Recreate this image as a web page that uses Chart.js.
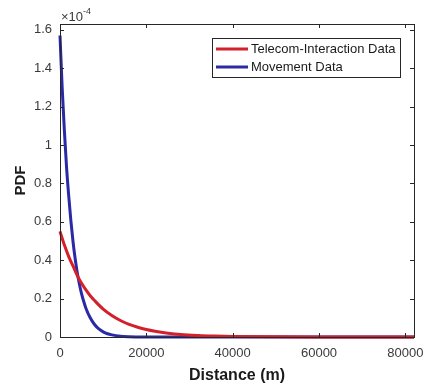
<!DOCTYPE html>
<html>
<head>
<meta charset="utf-8">
<script src="https://cdn.jsdelivr.net/npm/chart.js@4.4.1/dist/chart.umd.min.js"></script>
<style>
  html, body { margin: 0; padding: 0; background: #fff; }
  #wrap { width: 427px; height: 385px; position: relative; }
</style>
</head>
<body>
<div id="wrap"><canvas id="c" width="427" height="385"></canvas></div>
<script>
// Distances (m) and PDF values (in units of 1e-4)
const redDistances = [0, 1000, 2000, 3000, 4000, 5000, 6000, 7000, 8000, 10000, 12000, 14000, 16000, 18000, 20000, 22000, 25000, 28000, 32000, 36000, 40000, 50000, 60000, 70000, 82000];
const redValues    = [0.55, 0.48, 0.42, 0.37, 0.32, 0.28, 0.245, 0.215, 0.19, 0.145, 0.112, 0.086, 0.066, 0.051, 0.039, 0.030, 0.020, 0.013, 0.008, 0.005, 0.003, 0.001, 0.0004, 0.0001, 0];
const blueDistances = [0, 500, 1000, 1500, 2000, 2500, 3000, 3500, 4000, 4500, 5000, 5500, 6000, 7000, 8000, 9000, 10000, 11000, 12000, 14000, 16000, 20000, 30000, 82000];
const blueValues    = [1.57, 1.30, 1.08, 0.89, 0.74, 0.61, 0.50, 0.41, 0.335, 0.275, 0.225, 0.185, 0.15, 0.10, 0.065, 0.042, 0.027, 0.017, 0.011, 0.004, 0.0015, 0.0003, 0, 0];
const seriesNames = ['Telecom-Interaction Data', 'Movement Data'];
const xTickValues = [0, 20000, 40000, 60000, 80000];
const yTickLabels = ['0', '0.2', '0.4', '0.6', '0.8', '1', '1.2', '1.4', '1.6'];
const SCALE = 1e-4;

const toPts = (xs, ys) => xs.map((x, i) => ({ x: x, y: ys[i] * SCALE }));

const FONT = '"Liberation Sans", Arial, Helvetica, sans-serif';
const TICK_COLOR = '#3a3a3a';

const framePlugin = {
  id: 'frame',
  afterDatasetsDraw(chart) {
    const { ctx, chartArea: a, scales } = chart;
    ctx.save();
    ctx.strokeStyle = '#262626';
    ctx.lineWidth = 1;
    ctx.strokeRect(Math.round(a.left) + 0.5, Math.round(a.top) + 0.5, Math.round(a.right - a.left), Math.round(a.bottom - a.top));
    // inward ticks on all sides
    const tl = 4;
    ctx.beginPath();
    xTickValues.forEach(v => {
      const px = Math.round(scales.x.getPixelForValue(v)) + 0.5;
      ctx.moveTo(px, a.bottom); ctx.lineTo(px, a.bottom - tl);
      ctx.moveTo(px, a.top); ctx.lineTo(px, a.top + tl);
    });
    yTickLabels.forEach((l, i) => {
      const py = Math.round(scales.y.getPixelForValue(i * 0.2 * SCALE)) + 0.5;
      ctx.moveTo(a.left, py); ctx.lineTo(a.left + tl, py);
      ctx.moveTo(a.right, py); ctx.lineTo(a.right - tl, py);
    });
    ctx.stroke();

    // exponent label
    ctx.fillStyle = TICK_COLOR;
    ctx.textBaseline = 'alphabetic';
    ctx.textAlign = 'left';
    ctx.font = '13px ' + FONT;
    ctx.fillText('\u00d710', a.left + 1, a.top - 3);
    const w = ctx.measureText('\u00d710').width;
    ctx.font = '9px ' + FONT;
    ctx.fillText('-4', a.left + 1 + w, a.top - 10);

    // legend
    const lx = 212, ly = 38, lw = 188, lh = 39;
    ctx.fillStyle = '#fff';
    ctx.fillRect(lx, ly, lw, lh);
    ctx.strokeStyle = '#262626';
    ctx.lineWidth = 1;
    ctx.strokeRect(lx + 0.5, ly + 0.5, lw, lh);
    ctx.font = '13px ' + FONT;
    ctx.textBaseline = 'middle';
    chart.data.datasets.forEach((ds, i) => {
      const y = ly + 11 + i * 18;
      ctx.strokeStyle = ds.borderColor;
      ctx.lineWidth = 3;
      ctx.beginPath();
      ctx.moveTo(lx + 4, y); ctx.lineTo(lx + 36, y);
      ctx.stroke();
      ctx.fillStyle = '#1a1a1a';
      ctx.fillText(ds.label, lx + 39, y + 0.5);
    });
    ctx.restore();
  }
};

new Chart(document.getElementById('c'), {
  type: 'scatter',
  data: {
    datasets: [
      { label: seriesNames[0], data: toPts(redDistances, redValues), showLine: true, borderColor: '#d4202a', borderWidth: 3, pointRadius: 0, cubicInterpolationMode: 'monotone' },
      { label: seriesNames[1], data: toPts(blueDistances, blueValues), showLine: true, borderColor: '#2a2aa6', borderWidth: 3, pointRadius: 0, cubicInterpolationMode: 'monotone' }
    ]
  },
  options: {
    responsive: false,
    animation: false,
    clip: false,
    layout: { padding: { left: 12, right: 13, top: 24, bottom: 0 } },
    plugins: { legend: { display: false }, tooltip: { enabled: false } },
    scales: {
      x: {
        type: 'linear', min: 0, max: 82000,
        afterBuildTicks: s => { s.ticks = xTickValues.map(v => ({ value: v })); },
        grid: { display: false, drawTicks: false },
        border: { display: false },
        ticks: {
          autoSkip: false, padding: 9,
          color: TICK_COLOR, font: { family: FONT, size: 13 },
          maxRotation: 0,
          callback: v => String(v)
        },
        title: { display: true, text: 'Distance (m)', color: '#1a1a1a', font: { family: FONT, size: 16, weight: 'bold' }, padding: { top: 4, bottom: 0 } },
        afterFit: s => { s.height = 48; s.paddingLeft = 0; s.paddingRight = 0; }
      },
      y: {
        type: 'linear', min: 0, max: 1.63e-4,
        afterBuildTicks: s => { s.ticks = yTickLabels.map((l, i) => ({ value: i * 0.2 * SCALE })); },
        grid: { display: false, drawTicks: false },
        border: { display: false },
        ticks: {
          autoSkip: false, padding: 8,
          color: TICK_COLOR, font: { family: FONT, size: 13 },
          callback: (v, i) => yTickLabels[i]
        },
        title: { display: true, text: 'PDF', color: '#1a1a1a', font: { family: FONT, size: 15, weight: 'bold' }, padding: { top: 0, bottom: 6 } },
        afterFit: s => { s.width = 48; s.paddingTop = 0; s.paddingBottom = 0; }
      }
    }
  },
  plugins: [framePlugin]
});
</script>
</body>
</html>
